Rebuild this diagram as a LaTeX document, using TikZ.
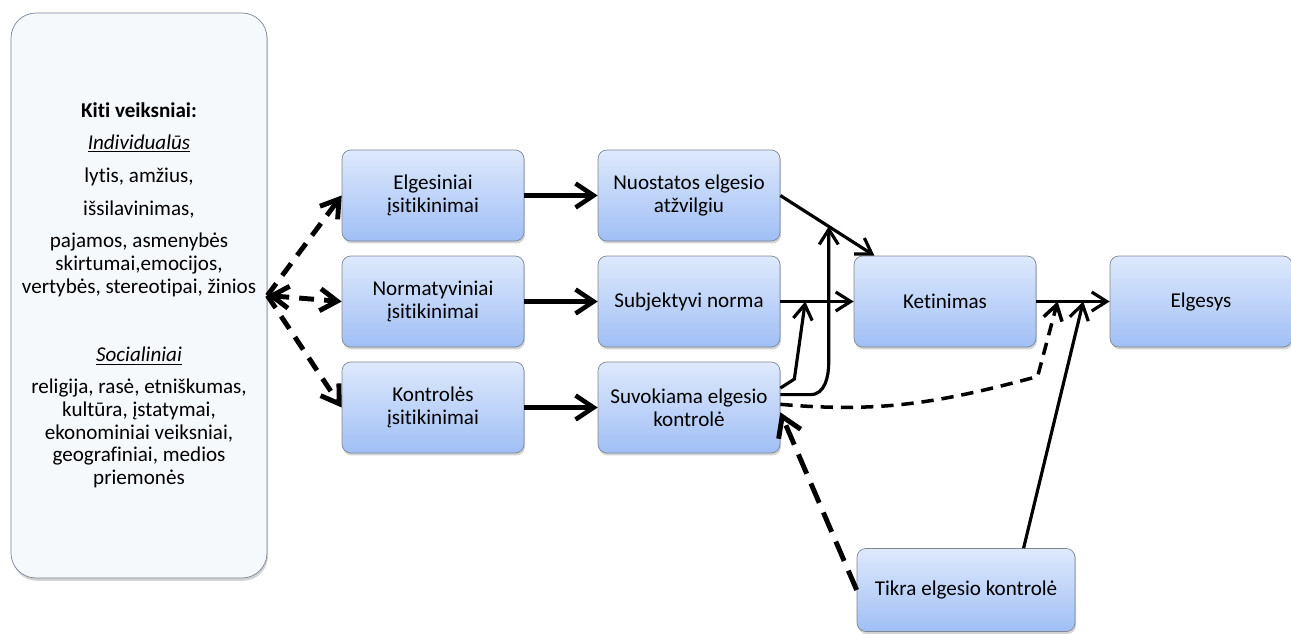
\documentclass[tikz,border=0pt]{standalone}
\usepackage{fontspec}
\setmainfont[Ligatures=CommonOff]{Carlito}
\usetikzlibrary{positioning}
\usetikzlibrary{arrows.meta}
\usetikzlibrary{shadows}
\definecolor{boxtop}{HTML}{DEE9FC}
\definecolor{boxbottom}{HTML}{A0BFF5}
\definecolor{boxline}{HTML}{7C8796}
\definecolor{sidefill}{HTML}{F6F9FC}
\tikzset{node distance=5.12cm,
    factor/.style={
        draw=boxline,
        rounded corners=5pt,
        top color=boxtop,
        bottom color=boxbottom,
        minimum width=3.64cm,
        minimum height=1.82cm,
        align=center,
        font=\fontsize{12}{13}\selectfont,
        drop shadow={shadow xshift=0.6pt,shadow yshift=-1.4pt,opacity=0.35}},
    sidebox/.style={
        draw=boxline,
        fill=sidefill,
        rounded corners=0.5cm,
        minimum width=5.12cm,
        minimum height=11.3cm,
        align=center,
        font=\fontsize{12}{13}\selectfont,
        drop shadow={shadow xshift=0.6pt,shadow yshift=-1.6pt,opacity=0.35}},
    bigarrow/.style={
        draw,
        ->,>={Straight Barb[length=3.6mm,width=4.8mm]},
        line width=2.6pt},
    thinarrow/.style={
        draw,
        ->,>={Straight Barb[length=3mm,width=3.8mm]},
        line width=1.8pt},
    leftdash/.style={
        draw,
        ->,>={Straight Barb[length=3.4mm,width=4.4mm]},
        line width=2.8pt,
        dash pattern=on 8.5pt off 5.7pt},
    curvedash/.style={
        draw,
        ->,>={Straight Barb[length=3mm,width=3.8mm]},
        line width=2pt,
        dash pattern=on 7pt off 4.5pt},
    bottomdash/.style={
        draw,
        ->,>={Straight Barb[length=3.8mm,width=4.8mm]},
        line width=2.8pt,
        dash pattern=on 12pt off 6pt}}

\begin{document}
\begin{tikzpicture}
    \useasboundingbox (0,0) rectangle (25.82,12.66);

    \node[sidebox] (kiti) at (2.78,6.75) {\textbf{Kiti veiksniai:}\\[5pt]
        \underline{\textit{Individualūs}}\\[6pt]
        lytis, amžius,\\[6pt]
        išsilavinimas,\\[5pt]
        pajamos, asmenybės\\
        skirtumai,emocijos,\\
        vertybės, stereotipai, žinios\\[26pt]
        \underline{\textit{Socialiniai}}\\[5pt]
        religija, rasė, etniškumas,\\
        kultūra, įstatymai,\\
        ekonominiai veiksniai,\\
        geografiniai, medios\\
        priemonės};

    \node[factor] (norm) at (8.66,6.63) {Normatyviniai\\įsitikinimai};
    \node[factor,above of=norm,node distance=2.12cm] (elg) {Elgesiniai\\įsitikinimai};
    \node[factor,below of=norm,node distance=2.12cm] (kont) {Kontrolės\\įsitikinimai};
    \node[factor,right of=elg] (nuo) {Nuostatos elgesio\\atžvilgiu};
    \node[factor,right of=norm] (subj) {Subjektyvi norma};
    \node[factor,right of=kont] (suv) {Suvokiama elgesio\\kontrolė};
    \node[factor,right of=subj] (ket) {Ketinimas};
    \node[factor,right of=ket] (elgs) {Elgesys};
    \node[factor,minimum width=4.36cm,minimum height=1.66cm] (tikra) at (19.32,0.86) {Tikra elgesio kontrolė};

    % other factors
    \draw[leftdash] (kiti.east) -- (elg.west);
    \draw[leftdash,<->] (kiti.east) -- (norm.west);
    \draw[leftdash] (kiti.east) -- (kont.west);

    \draw[bigarrow] (elg) -- (nuo);
    \draw[bigarrow] (norm) -- (subj);
    \draw[bigarrow] (kont) -- (suv);

    \draw[thinarrow] (nuo.east) -- coordinate[pos=0.515] (hitA) (ket.147);
    \draw[thinarrow] (subj.east) -- coordinate[pos=0.34] (hitB) (ket.west);
    \draw[thinarrow] (ket.east) -- coordinate[pos=0.29] (hitC) coordinate[pos=0.64] (hitD) (elgs.west);

    % perceived control
    \draw[thinarrow] (suv.8) -- ++(0.6,0) to[out=0,in=-90] (hitA |- suv.north) -- (hitA);
    \draw[thinarrow] (suv.12) -- ++(0.28,0.18) -- (hitB);
    \draw[curvedash] (suv.2) to[out=-5,in=195] ([xshift=-0.4cm,yshift=-1.5cm]hitC) -- (hitC);

    % actual control
    \draw[thinarrow] (tikra.36) -- (hitD);
    \draw[bottomdash] (tikra.west) -- (suv.-3);
\end{tikzpicture}
\end{document}
